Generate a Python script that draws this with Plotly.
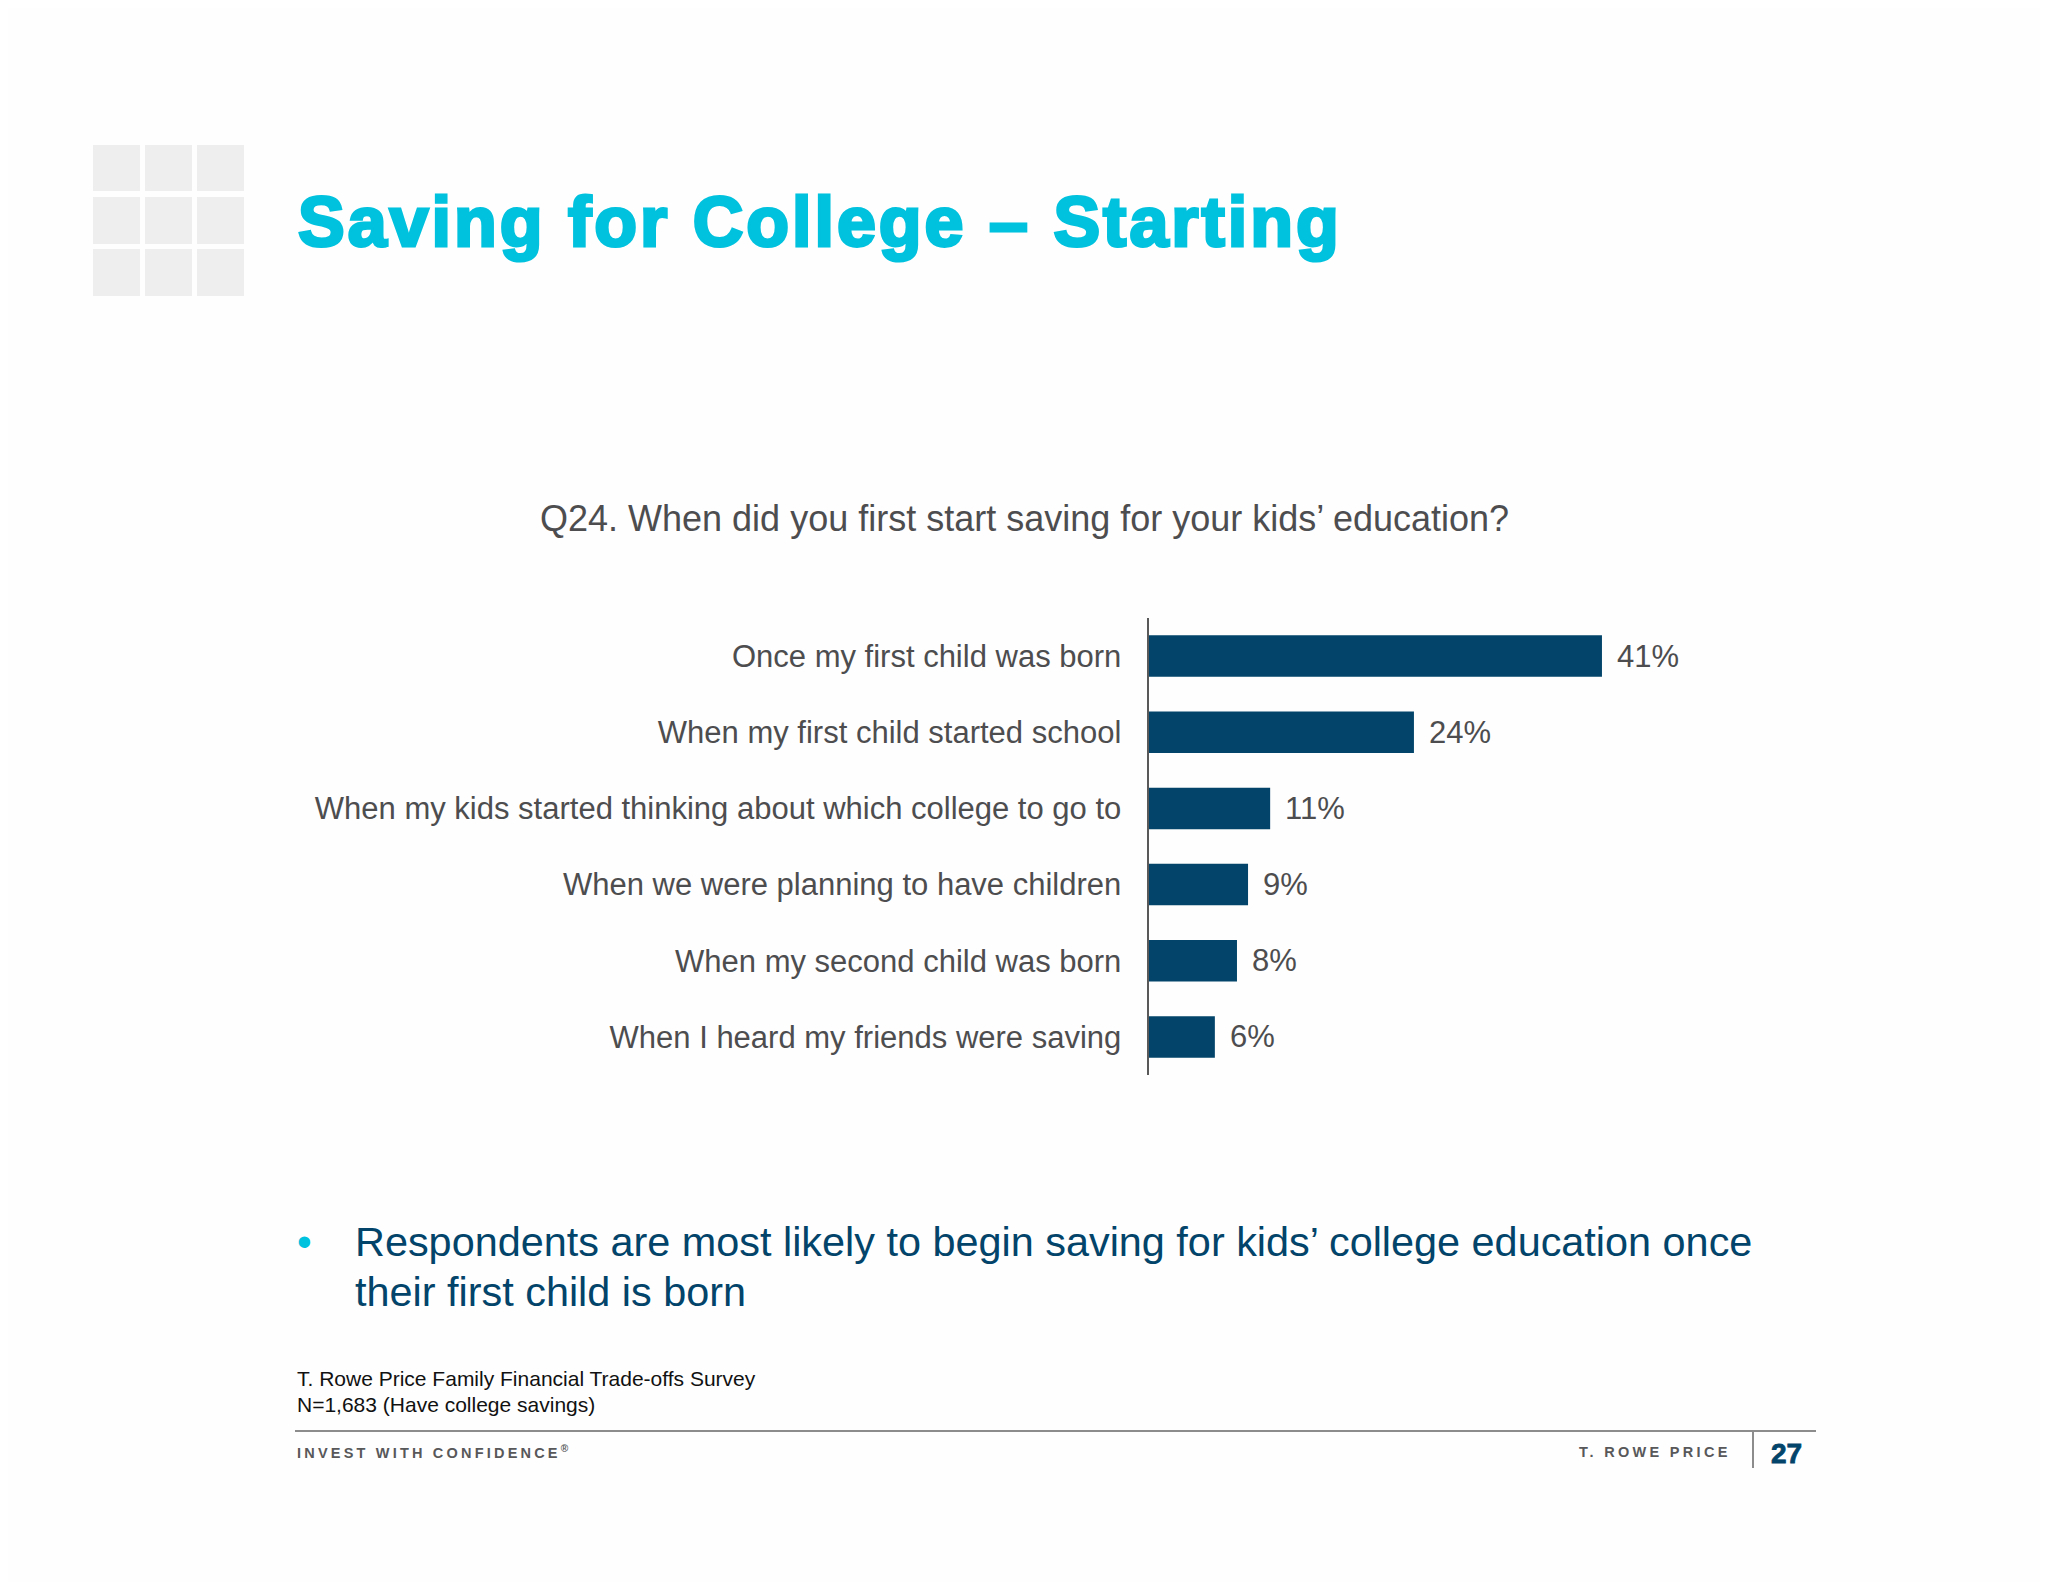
import plotly.graph_objects as go

categories = [
    "Once my first child was born",
    "When my first child started school",
    "When my kids started thinking about which college to go to",
    "When we were planning to have children",
    "When my second child was born",
    "When I heard my friends were saving",
]
values = [41, 24, 11, 9, 8, 6]
title_text = "Saving for College – Starting"
question_text = "Q24. When did you first start saving for your kids’ education?"
bullet_lines = [
    "Respondents are most likely to begin saving for kids’ college education once",
    "their first child is born",
]
source_lines = ["T. Rowe Price Family Financial Trade-offs Survey", "N=1,683 (Have college savings)"]

W, H = 2048, 1582
PAGE = 8  # the page body's default margin
NAVY = "#02446a"
CYAN = "#00c1de"
GREY = "#4d4d4f"
FONT = "Liberation Sans"


def px(x):
    return (x - PAGE) / W


def py(y):
    return 1 - (y - PAGE) / H


fig = go.Figure(
    go.Bar(
        x=values,
        y=categories,
        orientation="h",
        marker=dict(color=NAVY, line=dict(width=0)),
        hoverinfo="skip",
    )
)

annotations = []


def note(text, x, y, size, color, xanchor="left", bold=False):
    annotations.append(
        dict(
            text=f"<b>{text}</b>" if bold else text,
            x=px(x), y=py(y), xref="paper", yref="paper",
            xanchor=xanchor, yanchor="middle", showarrow=False,
            font=dict(family=FONT, size=size, color=color),
        )
    )


for c, v in zip(categories, values):
    annotations.append(
        dict(
            text=f"{v}%", x=v, y=c, xref="x", yref="y",
            xanchor="left", yanchor="middle", showarrow=False, xshift=13,
            font=dict(family=FONT, size=31, color=GREY),
        )
    )

note(f'<span style="stroke:{CYAN};stroke-width:3px;letter-spacing:3px">{title_text}</span>', 296, 222, 70, CYAN, bold=True)
note(question_text, 1024, 519, 36, GREY, xanchor="center")
note("•", 295, 1241, 42, CYAN)
note(bullet_lines[0], 353, 1242, 41.4, NAVY)
note(bullet_lines[1], 353, 1292, 41.4, NAVY)
note(source_lines[0], 295, 1378, 21, "#111111")
note(source_lines[1], 295, 1404, 21, "#111111")
note('<span style="letter-spacing:3.2px">INVEST WITH CONFIDENCE</span><sup>®</sup>', 295, 1452, 14.5, "#58585a", bold=True)
note('<span style="letter-spacing:3.3px">T. ROWE PRICE</span>', 1577, 1452, 14.5, "#58585a", bold=True)
note(f'<span style="stroke:{NAVY};stroke-width:0.8px">27</span>', 1769, 1453, 28, NAVY, bold=True)

shapes = []
xs = [(93, 140), (145, 192), (197, 244)]
ys = [(145, 191), (197, 244), (249, 296)]
for x0, x1 in xs:
    for y0, y1 in ys:
        shapes.append(
            dict(type="rect", xref="paper", yref="paper", x0=px(x0), x1=px(x1), y0=py(y0), y1=py(y1),
                 fillcolor="#eeeeee", line=dict(width=0), layer="below")
        )
shapes.append(dict(type="line", xref="paper", yref="paper", x0=px(295), x1=px(1816), y0=py(1431), y1=py(1431),
                   line=dict(color="#8c8c8c", width=2)))
shapes.append(dict(type="line", xref="paper", yref="paper", x0=px(1753), x1=px(1753), y0=py(1431), y1=py(1468),
                   line=dict(color="#8c8c8c", width=2)))

fig.update_layout(
    width=W, height=H,
    margin=dict(l=0, r=0, t=0, b=0),
    autosize=False,
    paper_bgcolor="#fefefe",
    plot_bgcolor="rgba(0,0,0,0)",
    showlegend=False,
    bargap=0.455,
    annotations=annotations,
    shapes=shapes,
    xaxis=dict(domain=[px(1148.5), px(1148.5 + 553)], range=[0, 50], visible=False, fixedrange=True),
    yaxis=dict(
        domain=[py(1075), py(618)],
        autorange="reversed",
        showline=True, linecolor="#595959", linewidth=2,
        showgrid=False, zeroline=False, ticks="",
        ticklabelstandoff=19,
        tickfont=dict(family=FONT, size=31, color=GREY),
        fixedrange=True,
    ),
)

fig.write_html("out.html", config={"displayModeBar": False})
